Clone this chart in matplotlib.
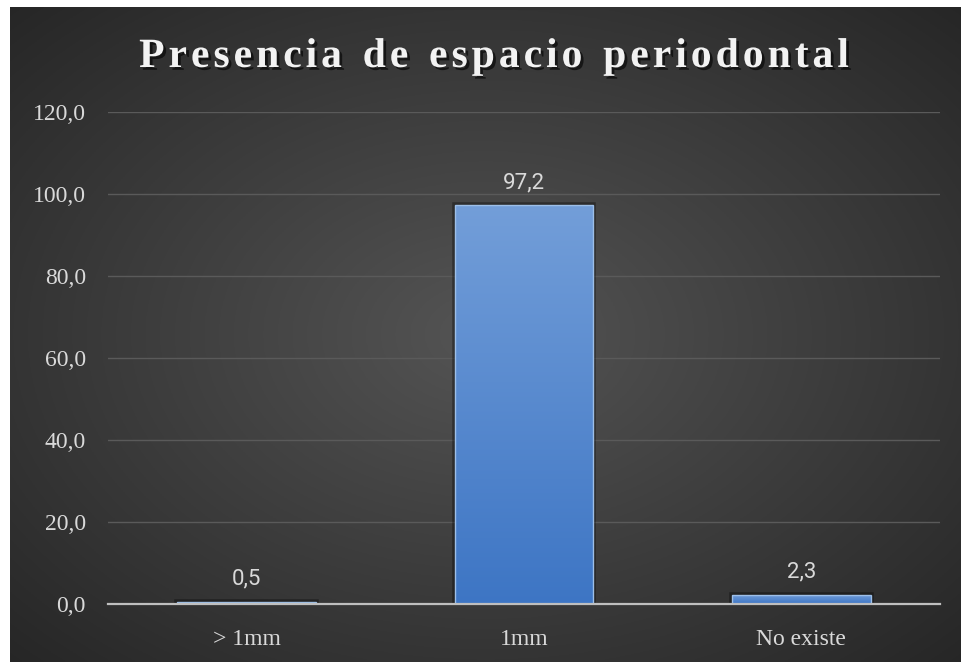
import numpy as np
import matplotlib.pyplot as plt
from matplotlib import patheffects

categories = ['> 1mm', '1mm', 'No existe']
values = [0.5, 97.2, 2.3]
y_ticks = [0, 20, 40, 60, 80, 100, 120]
y_tick_labels = ['0,0', '20,0', '40,0', '60,0', '80,0', '100,0', '120,0']
title = 'Presencia de espacio periodontal'

W, H = 962, 662
fig = plt.figure(figsize=(W / 100, H / 100), dpi=100, facecolor='white')

# dark panel with a soft radial gradient
bg = fig.add_axes([10 / W, 0, (W - 10) / W, (H - 7) / H], zorder=0)
yy, xx = np.mgrid[0:1:300j, 0:1:420j]
r = np.sqrt(((xx - 0.5) / 0.75) ** 2 + ((yy - 0.5) / 0.75) ** 2)
shade = np.clip(0.33 - 0.19 * r, 0.14, 0.33)
bg.imshow(np.dstack([shade] * 3), extent=[0, 1, 0, 1], aspect='auto', origin='lower')
bg.set_axis_off()

ax = fig.add_axes([108 / W, 58 / H, 832 / W, 492 / H], zorder=1)
ax.patch.set_alpha(0)

x = np.arange(len(categories))
# soft dark glow behind the bars
ax.bar(x, values, width=0.5, color='black', alpha=0.35, edgecolor='black', linewidth=4, zorder=2)
bars = ax.bar(x, values, width=0.5, color='none', edgecolor='none', zorder=3)

# vertical blue gradient inside each bar
grad = np.linspace(0, 1, 256).reshape(-1, 1)
top_c = np.array([0.45, 0.62, 0.85])
bot_c = np.array([0.24, 0.46, 0.77])
img = top_c * grad[..., None] + bot_c * (1 - grad[..., None])
for b in bars:
    x0, w, h = b.get_x(), b.get_width(), b.get_height()
    im = ax.imshow(img, extent=[x0, x0 + w, 0, h], aspect='auto', origin='lower', zorder=3)
    im.set_clip_path(b)
ax.bar(x, values, width=0.5, color='none', edgecolor='#9dbfe8', linewidth=1.0, zorder=4)

for xi, v in zip(x, values):
    ax.annotate(f'{v:.1f}'.replace('.', ','), (xi, v), xytext=(0, 9), textcoords='offset points',
                ha='center', va='bottom', fontsize=16, color='#d9d9d9', family='Roboto', zorder=5)

ax.set_xlim(-0.5, 2.5)
ax.set_ylim(0, 120)
ax.set_yticks(y_ticks)
ax.set_yticklabels(y_tick_labels, fontsize=17, color='#d9d9d9', family='Liberation Serif')
ax.set_xticks(x)
ax.set_xticklabels(categories, fontsize=17, color='#d9d9d9', family='Liberation Serif')
ax.tick_params(length=0)
ax.tick_params(axis='y', pad=16)
ax.tick_params(axis='x', pad=18)
ax.grid(axis='y', color='#5a5a5a', linewidth=1.0, zorder=0)
for s in ['top', 'right', 'left']:
    ax.spines[s].set_visible(False)
ax.spines['bottom'].set_color('#bfbfbf')
ax.spines['bottom'].set_linewidth(1.6)
ax.spines['bottom'].set_zorder(6)

# title with letter spacing, drawn one character at a time
fig.canvas.draw()
renderer = fig.canvas.get_renderer()
shadow = [patheffects.withSimplePatchShadow(offset=(2, -2), shadow_rgbFace='black', alpha=0.6)]
tprops = dict(fontsize=30, fontweight='bold', family='Liberation Serif', color='#f2f2f2')
spacing = 4.0
widths = []
for ch in title:
    t = fig.text(0, 0, ch if ch != ' ' else 'n', **tprops)
    widths.append(t.get_window_extent(renderer).width * (0.55 if ch == ' ' else 1))
    t.remove()
total = sum(widths) + spacing * (len(title) - 1)
cx = 494 - total / 2
for ch, w in zip(title, widths):
    if ch != ' ':
        fig.text(cx / W, (H - 67) / H, ch, va='baseline', ha='left', path_effects=shadow, zorder=10, **tprops)
    cx += w + spacing

fig.savefig('out.png', dpi=100, facecolor=fig.get_facecolor())
